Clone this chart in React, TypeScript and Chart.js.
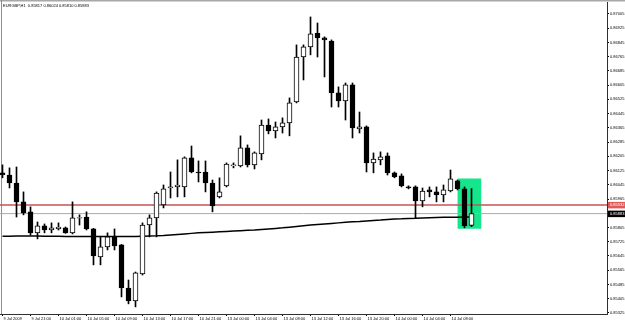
import React, { useEffect, useRef } from 'react';
import { Chart, registerables } from 'chart.js';

Chart.register(...registerables);

const TITLE = 'EURGBP,H1  0.85817 0.86024 0.85810 0.85883';

const OPEN = [0.86112, 0.86100, 0.86055, 0.85949, 0.85893, 0.85775, 0.85814, 0.85791, 0.85797, 0.85803,
  0.85775, 0.85857, 0.85864, 0.85797, 0.85640, 0.85696, 0.85752, 0.85707, 0.85465, 0.85392,
  0.85544, 0.85819, 0.85859, 0.85932, 0.86027, 0.86033, 0.86033, 0.86196, 0.86117, 0.86117,
  0.86055, 0.85977, 0.86039, 0.86151, 0.86151, 0.86252, 0.86157, 0.86218, 0.86381, 0.86348,
  0.86370, 0.86393, 0.86511, 0.86763, 0.86820, 0.86898, 0.86870, 0.86853, 0.86561, 0.86516,
  0.86606, 0.86359, 0.86370, 0.86168, 0.86185, 0.86207, 0.86112, 0.86095, 0.86033, 0.86033,
  0.85954, 0.86016, 0.86005, 0.85988, 0.86010, 0.86067, 0.86022, 0.85817];

const HIGH = [0.86157, 0.86140, 0.86145, 0.86005, 0.85921, 0.85836, 0.85825, 0.85831, 0.85831, 0.85808,
  0.85949, 0.85876, 0.85893, 0.85800, 0.85752, 0.85775, 0.85797, 0.85710, 0.85510, 0.85555,
  0.85831, 0.85876, 0.86005, 0.86044, 0.86117, 0.86185, 0.86202, 0.86263, 0.86179, 0.86179,
  0.86072, 0.86084, 0.86168, 0.86168, 0.86320, 0.86269, 0.86230, 0.86409, 0.86415, 0.86398,
  0.86421, 0.86533, 0.86831, 0.86831, 0.86988, 0.86954, 0.86876, 0.86859, 0.86595, 0.86617,
  0.86617, 0.86454, 0.86376, 0.86224, 0.86230, 0.86224, 0.86117, 0.86106, 0.86039, 0.86039,
  0.86027, 0.86033, 0.86033, 0.86044, 0.86128, 0.86072, 0.86033, 0.86024];

const LOW = [0.86084, 0.86027, 0.85864, 0.85876, 0.85763, 0.85741, 0.85775, 0.85775, 0.85791, 0.85772,
  0.85769, 0.85819, 0.85791, 0.85595, 0.85595, 0.85679, 0.85679, 0.85415, 0.85376, 0.85359,
  0.85538, 0.85752, 0.85752, 0.85915, 0.85971, 0.85977, 0.85977, 0.86112, 0.86061, 0.86005,
  0.85893, 0.85971, 0.86033, 0.86140, 0.86145, 0.86145, 0.86134, 0.86185, 0.86331, 0.86308,
  0.86336, 0.86320, 0.86505, 0.86634, 0.86775, 0.86763, 0.86651, 0.86482, 0.86482, 0.86409,
  0.86308, 0.86336, 0.86117, 0.86112, 0.86157, 0.86100, 0.86084, 0.86033, 0.86022, 0.85859,
  0.85921, 0.85977, 0.85949, 0.85949, 0.86005, 0.86016, 0.85803, 0.85810];

const CLOSE = [0.86100, 0.86055, 0.85949, 0.85887, 0.85775, 0.85814, 0.85791, 0.85803, 0.85808, 0.85775,
  0.85859, 0.85861, 0.85797, 0.85645, 0.85696, 0.85752, 0.85701, 0.85465, 0.85392, 0.85550,
  0.85819, 0.85859, 0.85999, 0.86022, 0.86033, 0.86044, 0.86196, 0.86117, 0.86112, 0.86055,
  0.85926, 0.86005, 0.86162, 0.86157, 0.86252, 0.86157, 0.86224, 0.86381, 0.86348, 0.86370,
  0.86393, 0.86505, 0.86763, 0.86820, 0.86893, 0.86870, 0.86859, 0.86561, 0.86516, 0.86606,
  0.86364, 0.86370, 0.86168, 0.86190, 0.86202, 0.86112, 0.86089, 0.86039, 0.86027, 0.85954,
  0.86010, 0.86005, 0.85988, 0.86016, 0.86078, 0.86022, 0.85814, 0.85883];

const MA = [0.85756, 0.85756, 0.85757, 0.85757, 0.85757, 0.85757, 0.85756, 0.85756, 0.85756, 0.85755,
  0.85755, 0.85755, 0.85755, 0.85754, 0.85754, 0.85754, 0.85754, 0.85754, 0.85754, 0.85755,
  0.85756, 0.85757, 0.85758, 0.85760, 0.85763, 0.85766, 0.85769, 0.85772, 0.85775, 0.85777,
  0.85779, 0.85781, 0.85783, 0.85785, 0.85787, 0.85789, 0.85791, 0.85794, 0.85797, 0.85800,
  0.85803, 0.85807, 0.85811, 0.85815, 0.85819, 0.85822, 0.85825, 0.85828, 0.85831, 0.85834,
  0.85837, 0.85839, 0.85842, 0.85845, 0.85847, 0.85850, 0.85853, 0.85854, 0.85856, 0.85857,
  0.85859, 0.85860, 0.85861, 0.85862, 0.85862, 0.85863, 0.85864, 0.85864];

const X_TICK_LABELS = ['9 Jul 2009', '9 Jul 21:00', '10 Jul 01:00', '10 Jul 05:00', '10 Jul 09:00',
  '10 Jul 13:00', '10 Jul 17:00', '10 Jul 21:00', '13 Jul 00:00', '13 Jul 04:00', '13 Jul 08:00',
  '13 Jul 12:00', '13 Jul 16:00', '13 Jul 20:00', '14 Jul 00:00', '14 Jul 04:00', '14 Jul 08:00'];
const X_TICK_STEP = 4;

const Y_TICKS = [0.85325, 0.85405, 0.85485, 0.85565, 0.85645, 0.85725, 0.85805, 0.85885, 0.85965,
  0.86045, 0.86125, 0.86205, 0.86285, 0.86365, 0.86445, 0.86525, 0.86605, 0.86685, 0.86765,
  0.86845, 0.86925, 0.87005];

const RED_LEVEL = 0.85932;
const BID_LEVEL = 0.85883;
const BOX_BAR = 66.7;
const BOX_LOW = 0.85800;
const BOX_HIGH = 0.86078;

const X_MIN = -2.5 / 7;
const X_MAX = X_MIN + 607 / 7;
const Y_MIN = 0.85319;
const Y_MAX = 0.87072;

const FONT = 'Liberation Sans';

export default function App() {
  const ref = useRef<HTMLCanvasElement>(null);

  useEffect(() => {
    document.body.style.margin = '0';
    const canvas = ref.current;
    if (!canvas) return;

    const idx = OPEN.map((_, i) => i);
    const bodies = idx.map((i) => ({ x: i, y: [OPEN[i], CLOSE[i]] }));
    const bodyColors = idx.map((i) => (CLOSE[i] >= OPEN[i] ? '#ffffff' : '#000000'));
    const wicks = idx.map((i) => ({ x: i, y: [LOW[i], HIGH[i]] }));
    const ma = idx.map((i) => ({ x: i, y: MA[i] }));

    const overlay = {
      id: 'overlay',
      beforeDatasetsDraw(chart: any) {
        const { ctx, chartArea } = chart;
        ctx.save();
        ctx.fillStyle = '#a8a8a8';
        ctx.fillRect(0, 0, 625, 1.5);
        ctx.fillStyle = '#909090';
        ctx.fillRect(1, 0, 1, chartArea.bottom);
        ctx.restore();
      },
      afterDraw(chart: any) {
        const { ctx } = chart;
        const y = chart.scales.y;
        ctx.save();
        ctx.font = `4px "${FONT}"`;
        ctx.textBaseline = 'middle';
        ctx.textAlign = 'left';
        ctx.fillStyle = '#000';
        ctx.fillText(TITLE, 3, 5.5);
        const tag = (val: number, bg: string, fg: string) => {
          const py = y.getPixelForValue(val);
          ctx.fillStyle = bg;
          ctx.fillRect(608, py - 3, 17, 6.5);
          ctx.fillStyle = fg;
          ctx.fillText(val.toFixed(5), 610, py + 0.3);
        };
        tag(RED_LEVEL, '#e05a5a', '#ffffff');
        tag(BID_LEVEL, '#000000', '#ffffff');
        ctx.restore();
      },
    };

    const chart = new Chart(canvas, {
      type: 'bar',
      data: {
        datasets: [
          {
            type: 'bar',
            data: bodies as any,
            backgroundColor: bodyColors,
            borderColor: '#000000',
            borderWidth: 1,
            borderSkipped: false,
            barThickness: 5,
            grouped: false,
            order: 0,
          },
          {
            type: 'bar',
            data: wicks as any,
            backgroundColor: '#000000',
            borderWidth: 0,
            barThickness: 1,
            grouped: false,
            order: 1,
          },
          {
            type: 'line',
            data: ma as any,
            borderColor: '#000000',
            borderWidth: 1.5,
            pointRadius: 0,
            tension: 0,
            order: 2,
          },
          {
            type: 'line',
            data: [{ x: X_MIN, y: RED_LEVEL }, { x: X_MAX, y: RED_LEVEL }] as any,
            borderColor: '#c65454',
            borderWidth: 1.5,
            pointRadius: 0,
            order: 3,
          },
          {
            type: 'line',
            data: [{ x: X_MIN, y: BID_LEVEL }, { x: X_MAX, y: BID_LEVEL }] as any,
            borderColor: '#ababab',
            borderWidth: 1,
            pointRadius: 0,
            order: 4,
          },
          {
            type: 'bar',
            data: [{ x: BOX_BAR, y: [BOX_LOW, BOX_HIGH] }] as any,
            backgroundColor: '#14e68c',
            borderWidth: 0,
            barThickness: 23,
            grouped: false,
            order: 5,
          },
        ],
      },
      options: {
        responsive: false,
        devicePixelRatio: 1,
        animation: false,
        events: [],
        layout: { padding: { left: 0, top: 2, right: 0, bottom: 0 } },
        plugins: { legend: { display: false }, tooltip: { enabled: false }, title: { display: false } },
        scales: {
          x: {
            type: 'linear',
            min: X_MIN,
            max: X_MAX,
            offset: false,
            bounds: 'data',
            grid: { display: true, drawOnChartArea: false, tickLength: 2, color: '#000', offset: false },
            border: { display: true, color: '#303030', width: 1 },
            ticks: {
              autoSkip: false,
              maxRotation: 0,
              minRotation: 0,
              align: 'start',
              padding: 0,
              labelOffset: 1,
              color: '#000000',
              font: { family: FONT, size: 4 },
              callback: (_v: any, i: number) => X_TICK_LABELS[i],
            },
            afterBuildTicks: (s: any) => {
              s.ticks = X_TICK_LABELS.map((_, i) => ({ value: i * X_TICK_STEP }));
            },
            afterFit: (s: any) => {
              s.height = 7;
              s.paddingLeft = 0;
              s.paddingRight = 0;
            },
          },
          y: {
            type: 'linear',
            position: 'right',
            min: Y_MIN,
            max: Y_MAX,
            bounds: 'data',
            grid: { display: true, drawOnChartArea: false, tickLength: 2, color: '#000' },
            border: { display: true, color: '#303030', width: 1 },
            ticks: {
              padding: 1,
              color: '#000000',
              font: { family: FONT, size: 4 },
              callback: (v: any) => Number(v).toFixed(5),
            },
            afterBuildTicks: (s: any) => {
              s.ticks = Y_TICKS.map((v) => ({ value: v }));
            },
            afterFit: (s: any) => {
              s.width = 18;
              s.paddingTop = 0;
              s.paddingBottom = 0;
            },
          },
        },
      } as any,
      plugins: [overlay],
    });

    return () => chart.destroy();
  }, []);

  return (
    <div style={{ width: 625, height: 321 }}>
      <canvas ref={ref} width={625} height={321} style={{ display: 'block' }} />
    </div>
  );
}
